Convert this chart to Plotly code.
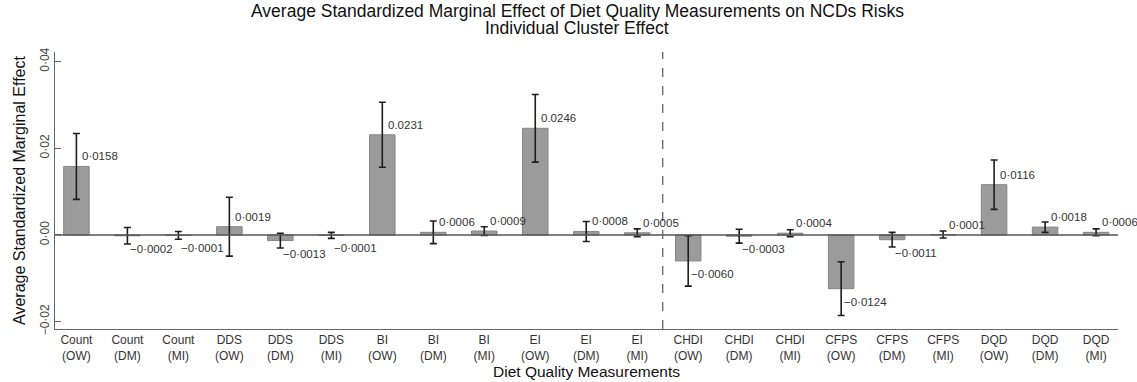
import plotly.graph_objects as go

# Diet quality measures and outcomes (OW = overweight, DM = diabetes, MI = myocardial infarction)
measures = ["Count", "DDS", "BI", "EI", "CHDI", "CFPS", "DQD"]
outcomes = ["OW", "DM", "MI"]
categories = [f"{m}<br>({o})" for m in measures for o in outcomes]

# Average standardized marginal effects
effects = [
    0.0158, -0.0002, -0.0001,
    0.0019, -0.0013, -0.0001,
    0.0231, 0.0006, 0.0009,
    0.0246, 0.0008, 0.0005,
    -0.0060, -0.0003, 0.0004,
    -0.0124, -0.0011, 0.0001,
    0.0116, 0.0018, 0.0006,
]

# Half-width of the confidence intervals
ci_half = [
    0.0076, 0.0019, 0.0009,
    0.0068, 0.0017, 0.0007,
    0.0075, 0.0026, 0.0010,
    0.0078, 0.0023, 0.0009,
    0.0058, 0.0016, 0.0008,
    0.0062, 0.0017, 0.0008,
    0.0057, 0.0012, 0.0008,
]

# Printed value labels (two were typeset with a full stop instead of a raised dot)
value_labels = [
    "0·0158", "−0·0002", "−0·0001",
    "0·0019", "−0·0013", "−0·0001",
    "0.0231", "0·0006", "0·0009",
    "0.0246", "0·0008", "0·0005",
    "−0·0060", "−0·0003", "0·0004",
    "−0·0124", "−0·0011", "0·0001",
    "0·0116", "0·0018", "0·0006",
]

y_tickvals = [-0.02, 0.0, 0.02, 0.04]
y_ticktext = ["−0·02", "0·00", "0·02", "0·04"]

title_main = "Average Standardized Marginal Effect of Diet Quality Measurements on NCDs Risks"
title_sub = "Individual Cluster Effect"

FONT = "Arial, Liberation Sans, sans-serif"
TITLE_SIZE = 17.5
idx = list(range(len(categories)))

fig = go.Figure()
fig.add_trace(go.Bar(
    x=idx,
    y=effects,
    width=0.5,
    marker=dict(color="#9b9b9b", line=dict(color="#858585", width=1)),
    error_y=dict(type="data", array=ci_half, visible=True,
                 color="#1e1e1e", thickness=1.6, width=3.5),
    showlegend=False,
    hoverinfo="skip",
))

# Value labels beside each error bar
for i, (v, lab) in enumerate(zip(effects, value_labels)):
    pos = v >= 0
    fig.add_annotation(
        x=i, y=v, text=lab, showarrow=False,
        xanchor="left", yanchor="middle",
        xshift=4 if pos else 1, yshift=10 if pos else -13,
        font=dict(family=FONT, size=11.5, color="#333333"),
    )

# Two-line heading, placed as separate lines for tight spacing
title_px = 577
fig.add_annotation(
    xref="paper", yref="paper", x=0.0, y=1, xshift=title_px - 55, yshift=41,
    xanchor="center", yanchor="middle", showarrow=False,
    text=title_main, font=dict(family=FONT, size=TITLE_SIZE, color="#111111"),
)
fig.add_annotation(
    xref="paper", yref="paper", x=0.0, y=1, xshift=title_px - 55, yshift=24,
    xanchor="center", yanchor="middle", showarrow=False,
    text=title_sub, font=dict(family=FONT, size=TITLE_SIZE, color="#111111"),
)

# Zero reference line
fig.add_shape(type="line", xref="paper", yref="y", x0=0, x1=1, y0=0, y1=0,
              line=dict(color="#555555", width=1.5))

# Divider between the first and second groups of measures
fig.add_shape(type="line", xref="x", yref="paper", x0=11.5, x1=11.5, y0=0, y1=1,
              line=dict(color="#666666", width=1.3, dash="dash"))

fig.update_layout(
    width=1137, height=382,
    margin=dict(l=55, r=19, t=52, b=53),
    paper_bgcolor="white", plot_bgcolor="white",
    font=dict(family=FONT, color="#222222"),
    xaxis=dict(
        range=[-0.42, 20.43],
        tickvals=idx, ticktext=categories, ticks="",
        tickfont=dict(family=FONT, size=12, color="#333333"),
        showgrid=False, zeroline=False, automargin=False,
        showline=True, linecolor="#666666", linewidth=1,
        title=dict(text="Diet Quality Measurements", standoff=4,
                   font=dict(family=FONT, size=15.5, color="#111111")),
    ),
    yaxis=dict(
        range=[-0.0217, 0.0422],
        tickvals=y_tickvals, ticktext=y_ticktext,
        ticks="inside", ticklen=6, tickcolor="#666666", tickangle=-90,
        tickfont=dict(family=FONT, size=12, color="#444444"),
        showgrid=False, zeroline=False, automargin=False,
        showline=True, linecolor="#666666", linewidth=1,
        title=dict(text="Average Standardized Marginal Effect", standoff=8,
                   font=dict(family=FONT, size=16, color="#111111")),
    ),
)

fig.write_html("out.html")
